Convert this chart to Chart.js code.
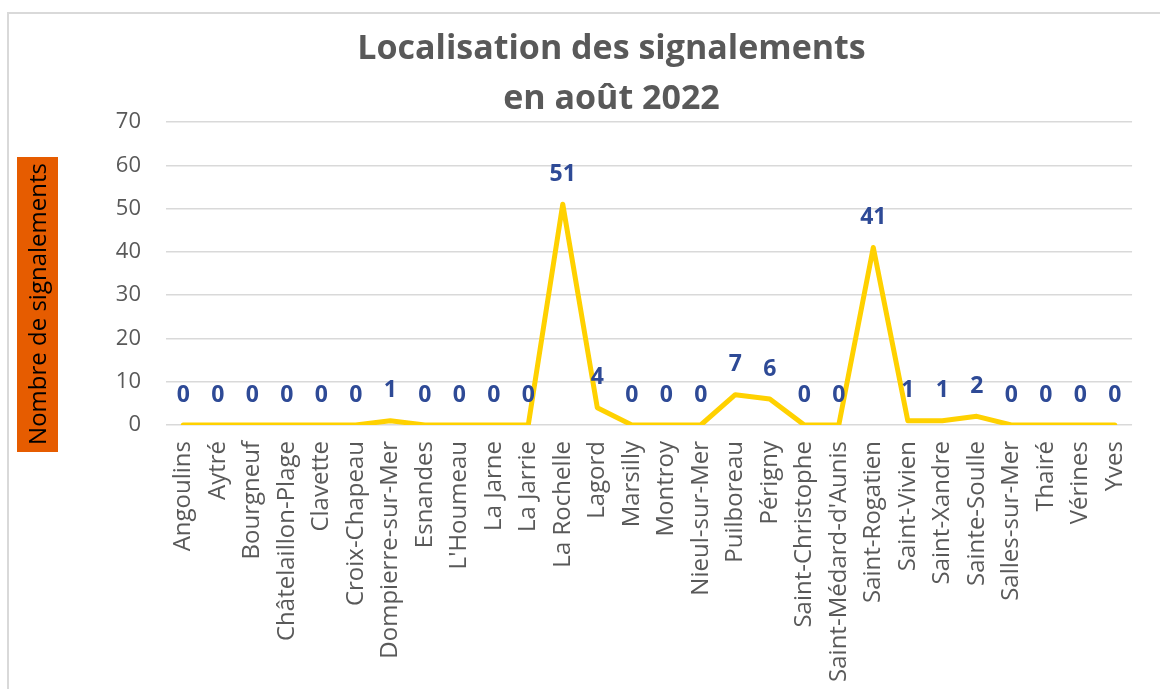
<!DOCTYPE html>
<html>
<head>
<meta charset="utf-8">
<script src="https://cdn.jsdelivr.net/npm/chart.js@4"></script>
<style>
  html, body { margin: 0; padding: 0; background: #fff; }
  #wrap { width: 1160px; height: 689px; position: relative; }
</style>
</head>
<body>
<div id="wrap"><canvas id="myChart"></canvas></div>
<script>
const communes = [
  "Angoulins", "Aytré", "Bourgneuf", "Châtelaillon-Plage", "Clavette",
  "Croix-Chapeau", "Dompierre-sur-Mer", "Esnandes", "L'Houmeau", "La Jarne",
  "La Jarrie", "La Rochelle", "Lagord", "Marsilly", "Montroy",
  "Nieul-sur-Mer", "Puilboreau", "Périgny", "Saint-Christophe", "Saint-Médard-d'Aunis",
  "Saint-Rogatien", "Saint-Vivien", "Saint-Xandre", "Sainte-Soulle", "Salles-sur-Mer",
  "Thairé", "Vérines", "Yves"
];
const signalements = [
  0, 0, 0, 0, 0,
  0, 1, 0, 0, 0,
  0, 51, 4, 0, 0,
  0, 7, 6, 0, 0,
  41, 1, 1, 2, 0,
  0, 0, 0
];
const titleLines = ["Localisation des signalements", "en août 2022"];
const yTitle = "Nombre de signalements";

const FONT = "'Open Sans', 'Noto Sans', sans-serif";
const ctx = document.getElementById("myChart").getContext("2d");

// gray frame, only top and left visible like the cropped screenshot
const framePlugin = {
  id: "frame",
  beforeDraw(chart) {
    const c = chart.ctx;
    c.save();
    c.fillStyle = "#fff";
    c.fillRect(0, 0, chart.width, chart.height);
    c.strokeStyle = "#d9d9d9";
    c.lineWidth = 2;
    c.beginPath();
    c.moveTo(8, chart.height);
    c.lineTo(8, 13);
    c.lineTo(chart.width, 13);
    c.stroke();
    c.restore();
  },
};

// orange box with the vertical axis title
const yTitlePlugin = {
  id: "yTitleBox",
  afterDraw(chart) {
    const c = chart.ctx;
    c.save();
    c.fillStyle = "#E65C00";
    c.fillRect(17, 157, 41, 295);
    c.translate(38, 304);
    c.rotate(-Math.PI / 2);
    c.fillStyle = "#000";
    c.font = "24px " + FONT;
    c.textAlign = "center";
    c.textBaseline = "middle";
    c.fillText(yTitle, 0, 1);
    c.restore();
  },
};

// value labels above each point
const valueLabels = {
  id: "valueLabels",
  afterDatasetsDraw(chart) {
    const c = chart.ctx;
    const meta = chart.getDatasetMeta(0);
    c.save();
    c.fillStyle = "#2E4A96";
    c.font = "bold 23px " + FONT;
    c.textAlign = "center";
    c.textBaseline = "middle";
    meta.data.forEach((pt, i) => {
      c.fillText(String(signalements[i]), pt.x, pt.y - 30);
    });
    c.restore();
  },
};

new Chart(ctx, {
  type: "line",
  data: {
    labels: communes,
    datasets: [
      {
        label: "Signalements",
        data: signalements,
        borderColor: "#FFD100",
        borderWidth: 5,
        borderJoinStyle: "round",
        borderCapStyle: "round",
        pointRadius: 0,
        tension: 0,
        fill: false,
      },
    ],
  },
  options: {
    responsive: true,
    maintainAspectRatio: false,
    animation: false,
    layout: { padding: { left: 85, right: 22, top: 0, bottom: 0 } },
    plugins: {
      legend: { display: false },
      tooltip: { enabled: false },
      title: {
        display: true,
        text: titleLines,
        color: "#595959",
        font: { family: FONT, size: 34, weight: "bold", lineHeight: 1.47 },
        padding: { top: 24, bottom: -2 },
      },
    },
    scales: {
      x: {
        offset: true,
        grid: { display: false, drawTicks: false },
        border: { display: false },
        ticks: {
          color: "#595959",
          font: { family: FONT, size: 24 },
          minRotation: 90,
          maxRotation: 90,
          autoSkip: false,
          padding: 16,
        },
        afterFit(scale) {
          scale.height = 264;
        },
      },
      y: {
        min: 0,
        max: 70,
        grid: { color: "#d9d9d9", lineWidth: 1.5, drawTicks: false },
        border: { display: false },
        ticks: {
          stepSize: 10,
          color: "#595959",
          font: { family: FONT, size: 22 },
          padding: 25,
        },
        afterFit(scale) {
          scale.width = 81;
        },
      },
    },
  },
  plugins: [framePlugin, yTitlePlugin, valueLabels],
});
</script>
</body>
</html>
